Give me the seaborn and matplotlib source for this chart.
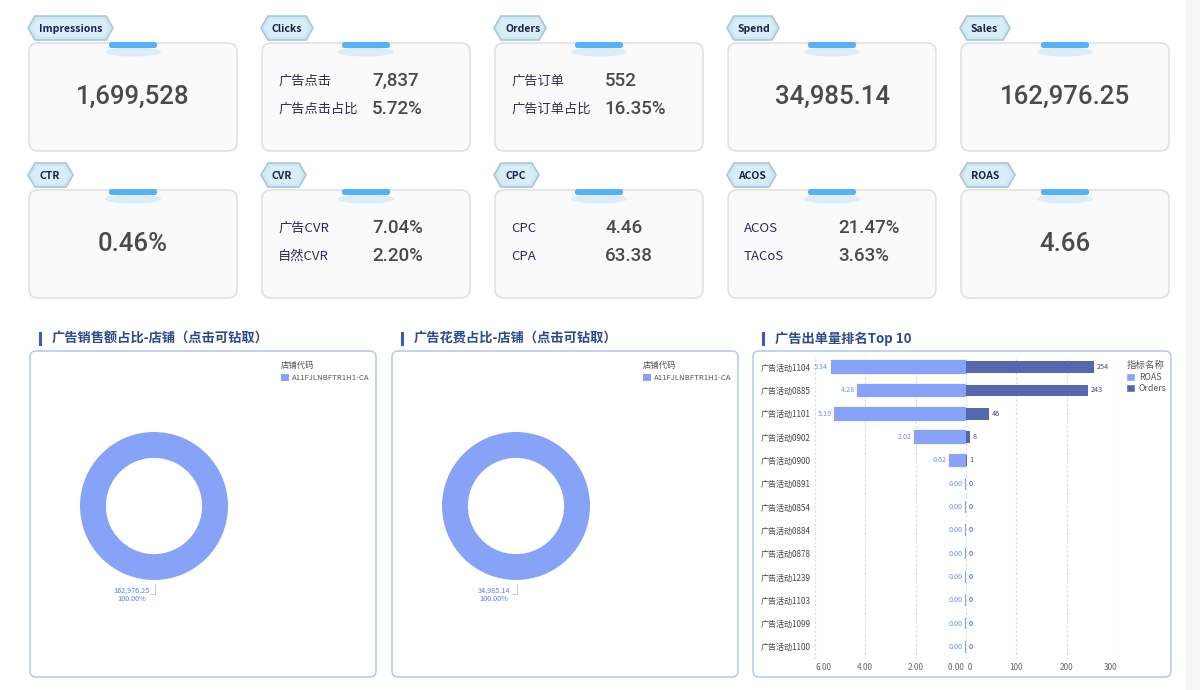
import numpy as np
import pandas as pd
import matplotlib
matplotlib.use("Agg")
import matplotlib.pyplot as plt
import seaborn as sns
from matplotlib.patches import FancyBboxPatch, Rectangle, Polygon, Ellipse, Patch

# ---------------- data ----------------
kpi_titles = ["Impressions", "Clicks", "Orders", "Spend", "Sales",
              "CTR", "CVR", "CPC", "ACOS", "ROAS"]
kpi_labels = [[], ["广告点击", "广告点击占比"], ["广告订单", "广告订单占比"], [], [],
              [], ["广告CVR", "自然CVR"], ["CPC", "CPA"], ["ACOS", "TACoS"], []]
kpi_values = [["1,699,528"], ["7,837", "5.72%"], ["552", "16.35%"], ["34,985.14"], ["162,976.25"],
              ["0.46%"], ["7.04%", "2.20%"], ["4.46", "63.38"], ["21.47%", "3.63%"], ["4.66"]]

panel_titles = ["广告销售额占比-店铺（点击可钻取）", "广告花费占比-店铺（点击可钻取）", "广告出单量排名Top 10"]

shop_codes = ["A11FJLNBFTR1H1-CA"]
shop_sales = [162976.25]
shop_spend = [34985.14]

campaigns = ["广告活动1104", "广告活动0885", "广告活动1101", "广告活动0902", "广告活动0900",
             "广告活动0891", "广告活动0854", "广告活动0884", "广告活动0878", "广告活动1239",
             "广告活动1103", "广告活动1099", "广告活动1100"]
roas = [5.34, 4.28, 5.19, 2.02, 0.62, 0, 0, 0, 0, 0, 0, 0, 0]
orders = [254, 243, 46, 8, 1, 0, 0, 0, 0, 0, 0, 0, 0]
roas_ticks = [6, 4, 2, 0]
orders_ticks = [0, 100, 200, 300]

# ---------------- style ----------------
sns.set_theme(style="white")
plt.rcParams['font.family'] = ['Noto Sans CJK SC', 'DejaVu Sans']
NUM = ['Roboto', 'DejaVu Sans']

donut_color = '#86a3f7'
roas_color = '#86a3f7'
orders_color = '#5468b0'

W, H = 1200, 690
fig = plt.figure(figsize=(12, 6.9), dpi=100)
fig.patch.set_facecolor('white')

bg = fig.add_axes([0, 0, 1, 1])
bg.set_xlim(0, W)
bg.set_ylim(H, 0)
bg.axis('off')
bg.set_zorder(0)


def frac(x0, y0, x1, y1):
    return [x0 / W, 1 - y1 / H, (x1 - x0) / W, (y1 - y0) / H]


bg.add_patch(Rectangle((1186, 0), 14, H, fc='#f6f6f6', ec='none', zorder=0))

# ---------------- KPI cards ----------------
card_x = [29 + 233 * i for i in range(5)]
card_y = [43, 190]
card_w, card_h = 208, 108
tag_w = [85, 52, 52, 52, 50, 45, 45, 45, 49, 55]

for k, title in enumerate(kpi_titles):
    r, c = divmod(k, 5)
    x0, y0 = card_x[c], card_y[r]
    bg.add_patch(FancyBboxPatch((x0, y0), card_w, card_h,
                                boxstyle="round,pad=0,rounding_size=9",
                                fc='#fafafa', ec='#e1e1e1', lw=1.2, zorder=1))
    cx = x0 + card_w / 2
    bg.add_patch(Ellipse((cx, y0 + 9), 56, 9, fc='#d4e9fb', ec='none', alpha=0.8, zorder=2))
    bg.add_patch(FancyBboxPatch((cx - 24, y0 - 1), 48, 6,
                                boxstyle="round,pad=0,rounding_size=2.5",
                                fc='#56b1f6', ec='none', zorder=3))
    tx0 = x0 - 1
    tx1 = tx0 + tag_w[k]
    ty0, ty1 = y0 - 27, y0 - 3
    tm = (ty0 + ty1) / 2
    bg.add_patch(Polygon([(tx0, tm), (tx0 + 7, ty0), (tx1 - 7, ty0), (tx1, tm),
                          (tx1 - 7, ty1), (tx0 + 7, ty1)], closed=True,
                         fc='#cfe6f3', ec='#a9c6d9', lw=1.2, zorder=2))
    bg.add_patch(Polygon([(tx0 + 4, tm), (tx0 + 9, ty0 + 3), (tx1 - 9, ty0 + 3), (tx1 - 4, tm),
                          (tx1 - 9, ty1 - 3), (tx0 + 9, ty1 - 3)], closed=True,
                         fc='#d9edf7', ec='none', zorder=2))
    bg.text(tx0 + 11, tm + 1, title, fontsize=7.5, fontweight='bold', color='#16244a',
            va='center', ha='left', zorder=4)
    labels, vals = kpi_labels[k], kpi_values[k]
    if not labels:
        bg.text(cx, y0 + 54, vals[0], ha='center', va='center', fontsize=18.5,
                color='#4a4a4a', family=NUM, fontweight='medium', zorder=4)
    else:
        for j, (lab, val) in enumerate(zip(labels, vals)):
            yy = y0 + 38 + 28 * j
            bg.text(x0 + 16, yy, lab, fontsize=9.5, color='#2a2e4d', va='center', zorder=4)
            bg.text(x0 + 110, yy, val, fontsize=13.5, color='#4a4a4a', va='center',
                    family=NUM, fontweight='medium', zorder=4)

# ---------------- panels ----------------
panels = [(30, 351, 376, 677), (392, 351, 738, 677), (753, 351, 1171, 677)]
for (x0, y0, x1, y1), t in zip(panels, panel_titles):
    bg.add_patch(FancyBboxPatch((x0, y0), x1 - x0, y1 - y0,
                                boxstyle='round,pad=0,rounding_size=6',
                                fc='white', ec='#a8c5eb', lw=1.0, zorder=1))
    bg.add_patch(Rectangle((x0 + 9, 332), 3, 14, fc='#2f5fc4', ec='none', zorder=2))
    bg.text(x0 + 22, 339, t, fontsize=9.5, fontweight='bold', color='#2c4a8c',
            va='center', zorder=2)


# ---------------- donuts ----------------
def donut(cx, cy, values, legend_x):
    R, L = 74, 1.4
    ax = fig.add_axes(frac(cx - R * L, cy - R * L, cx + R * L, cy + R * L))
    ax.patch.set_alpha(0)
    wedges, _ = ax.pie(values, radius=1, startangle=90, counterclock=False,
                       colors=[donut_color] * len(values),
                       wedgeprops=dict(width=0.35, edgecolor='white', linewidth=0))
    ax.set_xlim(-L, L)
    ax.set_ylim(-L, L)
    ax.set_aspect('equal')
    ax.axis('off')
    total = sum(values)
    for v in values:
        ax.text(-0.30, -1.20, f"{v:,.2f}\n{v / total * 100:.2f}%", ha='center', va='center',
                fontsize=5.2, color='#5b7ee0', linespacing=1.15)
        ax.plot([0.01, 0.01, -0.05], [-1.05, -1.19, -1.19], color='#b8c8ee', lw=0.7)
    leg = ax.legend(wedges, shop_codes, title='店铺代码', loc='upper left',
                    bbox_to_anchor=(legend_x / W, 1 - 357 / H), bbox_transform=fig.transFigure,
                    frameon=False, fontsize=5.6, title_fontsize=6, alignment='left',
                    handlelength=1.0, handleheight=1.0, handletextpad=0.4, borderpad=0,
                    labelcolor='#555555')
    leg.get_title().set_color('#555555')


donut(154, 506, shop_sales, 277)
donut(516, 506, shop_spend, 639)

# ---------------- bar chart ----------------
df = pd.DataFrame({'campaign': campaigns, 'ROAS': roas, 'Orders': orders})
n = len(campaigns)
axL = fig.add_axes(frac(815, 355.5, 966, 658.5))
axR = fig.add_axes(frac(966, 355.5, 1117, 658.5))
for ax in (axL, axR):
    ax.patch.set_alpha(0)

sns.barplot(data=df, x='ROAS', y='campaign', ax=axL, color=roas_color, width=0.5,
            orient='h', saturation=1, edgecolor=roas_color, linewidth=1.6)
sns.barplot(data=df, x='Orders', y='campaign', ax=axR, color=orders_color, width=0.5,
            orient='h', saturation=1, linewidth=0)

axL.set_xlim(6, 0)
axR.set_xlim(0, 300)
roas_tl = ['{:.2f}'.format(t) for t in roas_ticks]
roas_tl[-1] = roas_tl[-1] + ' '
orders_tl = ['{:d}'.format(t) for t in orders_ticks]
orders_tl[0] = ' ' + orders_tl[0]
for ax, ticks, tl in ((axL, roas_ticks, roas_tl), (axR, orders_ticks, orders_tl)):
    ax.set_ylim(n - 0.5, -0.5)
    ax.set_xticks(ticks)
    ax.set_xticklabels(tl)
    ax.grid(axis='x', linestyle=(0, (2, 2)), color='#d9d9d9', lw=0.8)
    ax.grid(axis='y', visible=False)
    for s in ax.spines.values():
        s.set_visible(False)
    ax.set_xlabel('')
    ax.set_ylabel('')
    ax.tick_params(axis='x', length=0, pad=3, labelsize=5.9, labelcolor='#666666')
    ax.tick_params(axis='y', length=0, pad=3, labelsize=5.8, labelcolor='#444444')
axR.set_yticklabels([])
xl = axL.get_xticklabels()
xl[0].set_ha('left')
xl[-1].set_ha('right')
xr = axR.get_xticklabels()
xr[0].set_ha('left')
xr[-1].set_ha('right')

for i, v in enumerate(roas):
    axL.annotate(f'{v:.2f}', (v, i), xytext=(-2.5, 0), textcoords='offset points',
                 ha='right', va='center', fontsize=5.2, color='#6f8fe8')
for i, v in enumerate(orders):
    axR.annotate(f'{v:d}', (v, i), xytext=(2, 0), textcoords='offset points',
                 ha='left', va='center', fontsize=5.2, color='#3c4b8f')

leg = fig.legend(handles=[Patch(fc=roas_color), Patch(fc=orders_color)], labels=['ROAS', 'Orders'],
                 title='指标名称', loc='upper left', bbox_to_anchor=(1122 / W, 1 - 357 / H),
                 frameon=False, fontsize=6.3, title_fontsize=6.8, alignment='left',
                 handlelength=1.0, handleheight=1.0, handletextpad=0.4, borderpad=0,
                 labelcolor='#555555', labelspacing=0.25)
leg.get_title().set_color('#555555')

fig.savefig('out.png', dpi=100, facecolor='white')
